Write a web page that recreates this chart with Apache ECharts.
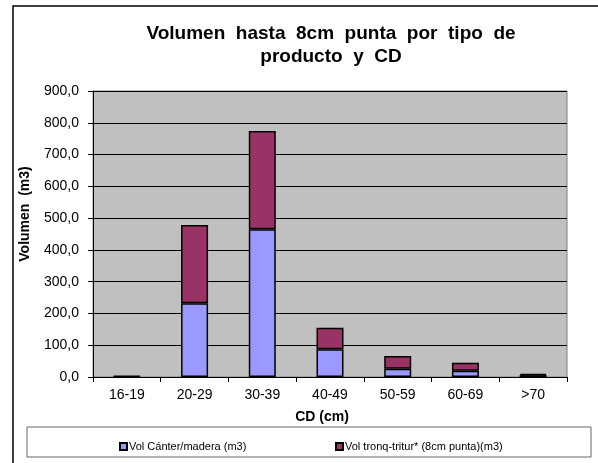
<!DOCTYPE html>
<html>
<head>
<meta charset="utf-8">
<script src="https://cdn.jsdelivr.net/npm/echarts@6/dist/echarts.min.js"></script>
<style>html,body{margin:0;padding:0;background:#fff;}#c{width:598px;height:463px;}</style>
</head>
<body>
<div id="c"></div>
<script>
const categories = ['16-19','20-29','30-39','40-49','50-59','60-69','>70'];
const volCanter = [2, 232, 465, 87, 26, 20, 6];
const volTronq = [1, 246, 309, 68, 40, 25, 4];
const seriesNames = ['Vol Cánter/madera (m3)', 'Vol tronq-tritur* (8cm punta)(m3)'];
const yTicks = {min: 0, max: 900, interval: 100};

const chart = echarts.init(document.getElementById('c'), null, {renderer: 'canvas'});
const font = 'Liberation Sans, Arial, sans-serif';
chart.setOption({
  animation: false,
  textStyle: {fontFamily: font},
  title: {
    text: 'Volumen  hasta  8cm  punta  por  tipo  de\nproducto  y  CD',
    left: 326, top: 17, textAlign: 'center',
    textStyle: {fontFamily: font, fontSize: 19, fontWeight: 'bold', color: '#000', lineHeight: 23}
  },
  graphic: [
    {type: 'rect', shape: {x: 13, y: 6, width: 620, height: 500}, style: {fill: 'none', stroke: '#000', lineWidth: 1.5}, silent: true, z: -10},
    {type: 'rect', shape: {x: 27, y: 427, width: 564, height: 30}, style: {fill: '#fff', stroke: '#666', lineWidth: 1}, silent: true, z: -5},
    {type: 'text', x: 25, y: 214, rotation: Math.PI / 2,
     style: {text: 'Volumen  (m3)', fill: '#000', font: 'bold 14px ' + font, align: 'center', verticalAlign: 'middle'}, z: 10}
  ],
  legend: [
    {data: [seriesNames[0]], left: 114, top: 436, itemWidth: 7, itemHeight: 7, icon: 'rect', itemGap: 4,
     textStyle: {fontFamily: font, fontSize: 11, color: '#000', padding: [0,0,0,-3]}},
    {data: [seriesNames[1]], left: 330, top: 436, itemWidth: 7, itemHeight: 7, icon: 'rect',
     textStyle: {fontFamily: font, fontSize: 11, color: '#000', padding: [0,0,0,-3]}}
  ],
  grid: {left: 93, right: 31, top: 91, bottom: 86, show: true, backgroundColor: '#C0C0C0', borderColor: '#808080', borderWidth: 1},
  xAxis: {
    type: 'category', data: categories,
    name: 'CD (cm)', nameLocation: 'middle', nameGap: 33,
    nameTextStyle: {fontFamily: font, fontSize: 14, fontWeight: 'bold', color: '#000', padding: [0, 16, 0, 0]},
    axisLine: {lineStyle: {color: '#000', width: 1}},
    axisTick: {show: true, length: 5, lineStyle: {color: '#000'}},
    axisLabel: {fontFamily: font, fontSize: 14, color: '#000', margin: 11}
  },
  yAxis: {
    type: 'value', min: yTicks.min, max: yTicks.max, interval: yTicks.interval,
    axisLine: {show: true, lineStyle: {color: '#000', width: 1}},
    axisTick: {show: true, length: 5, lineStyle: {color: '#000'}},
    splitLine: {show: true, lineStyle: {color: '#000', width: 1}},
    axisLabel: {fontFamily: font, fontSize: 14, color: '#000', margin: 14,
      formatter: v => v.toFixed(1).replace('.', ',')}
  },
  series: [
    {name: seriesNames[0], type: 'bar', stack: 'a', data: volCanter, barWidth: 27,
     itemStyle: {color: '#9999FF', borderColor: '#000', borderWidth: 1.5}},
    {name: seriesNames[1], type: 'bar', stack: 'a', data: volTronq, barWidth: 27,
     itemStyle: {color: '#993366', borderColor: '#000', borderWidth: 1.5}}
  ]
});
</script>
</body>
</html>
